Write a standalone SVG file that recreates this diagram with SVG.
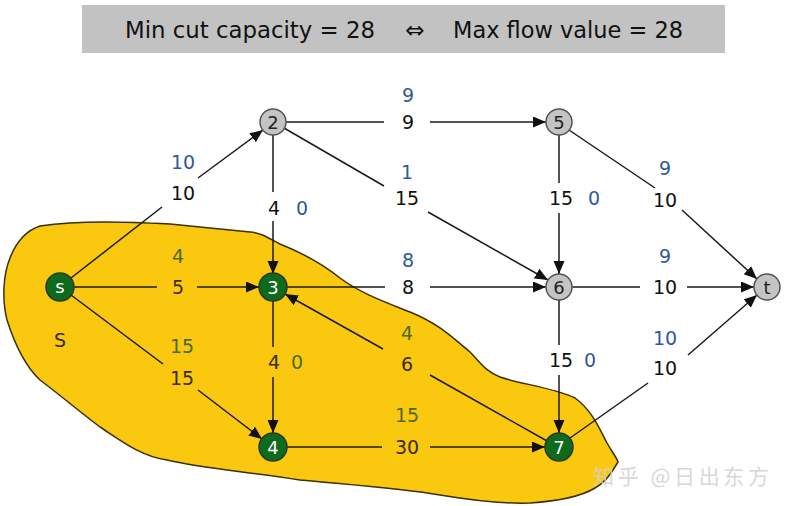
<svg xmlns="http://www.w3.org/2000/svg" width="787" height="506" viewBox="0 0 787 506">
<defs>
<marker id="arr" markerUnits="userSpaceOnUse" markerWidth="14" markerHeight="12" refX="13" refY="5.5" orient="auto">
<path d="M0,0 L13,5.5 L0,11 Z" fill="#111"/>
</marker>
<style>
.e{stroke:#1a1a1a;stroke-width:1.5;fill:none}
.a{marker-end:url(#arr)}
.t{font-family:"DejaVu Sans","Liberation Sans",sans-serif;font-size:19px;text-anchor:middle;dominant-baseline:central}
.k{fill:#111}
.b{fill:#2f5a9a}
.kb{fill:#3b2c05}
.bg{fill:#4d6b2a}
.gn circle{fill:#0e6a1c;stroke:#2a3a1a;stroke-width:1.5}
.gn text{fill:#ffffff}
.gy circle{fill:#c4c4c4;stroke:#555;stroke-width:1.5}
.gy text{fill:#222}
.n{font-family:"DejaVu Sans","Liberation Sans",sans-serif;font-size:18px;text-anchor:middle;dominant-baseline:central}
.h{font-family:"DejaVu Sans","Liberation Sans",sans-serif;font-size:23px;fill:#111;dominant-baseline:central}
</style>
</defs>
<rect x="0" y="0" width="787" height="506" fill="#ffffff"/>
<g id="header">
<rect x="82" y="5" width="643" height="48" fill="#c2c2c2"/>
<text class="h" x="125" y="30" textLength="250" lengthAdjust="spacingAndGlyphs">Min cut capacity = 28</text>
<text class="h" x="415" y="30" text-anchor="middle">⇔</text>
<text class="h" x="453" y="30" textLength="230" lengthAdjust="spacingAndGlyphs">Max flow value = 28</text>
</g>
<g id="cut">
<path d="M40,226 C80,220 130,222 170,224 L250,232 C262,233 268,238 280,244 C300,252 320,262 340,278 C360,293 385,302 410,312 C440,324 455,340 470,352 C480,362 486,372 500,377 C520,384 555,388 575,398 C592,410 600,430 607,443 C612,452 617,458 618,462 C612,472 606,482 595,488 C580,497 560,501 530,503 C500,504 470,500 440,495 C400,488 340,484 300,480 C250,472 200,468 167,460 C140,456 120,440 100,427 C80,412 60,395 40,380 C25,366 15,345 7,320 C2,300 3,275 10,258 C17,240 28,230 40,226 Z" fill="#f9c80f" stroke="#3a3000" stroke-width="1.5"/>
<text class="t kb" x="60" y="340">S</text>
</g>
<g id="connectors">
<path class="e" d="M71,278 L162,207"/><path class="e a" d="M198,178 L263,130"/>
<path class="e" d="M74,287 L157,287"/><path class="e a" d="M197,287 L259,287"/>
<path class="e" d="M71,295 L163,364"/><path class="e a" d="M198,390 L262,439"/>
<path class="e" d="M286,122 L384,122"/><path class="e a" d="M430,122 L546,122"/>
<path class="e" d="M273,135 L273,192"/><path class="e a" d="M273,221 L273,274"/>
<path class="e" d="M284,128 L384,186"/><path class="e a" d="M428,212 L548,280"/>
<path class="e" d="M559,135 L559,183"/><path class="e a" d="M559,213 L559,274"/>
<path class="e" d="M569,130 L655,188"/><path class="e a" d="M682,210 L757,279"/>
<path class="e" d="M287,287 L385,287"/><path class="e a" d="M430,287 L546,287"/>
<path class="e" d="M572,287 L640,287"/><path class="e a" d="M687,287 L754,287"/>
<path class="e" d="M547,441 L430,375"/><path class="e a" d="M383,349 L285,294"/>
<path class="e" d="M273,300 L273,347"/><path class="e a" d="M273,377 L273,433"/>
<path class="e" d="M559,300 L559,345"/><path class="e a" d="M559,375 L559,433"/>
<path class="e" d="M570,438 L648,383"/><path class="e a" d="M688,355 L757,295"/>
<path class="e" d="M287,447 L382,447"/><path class="e a" d="M430,447 L545,447"/>
</g>
<g id="labels">
<text class="t k" x="183" y="193">10</text><text class="t b" x="183" y="162">10</text>
<text class="t kb" x="178" y="287">5</text><text class="t bg" x="178" y="256">4</text>
<text class="t kb" x="182" y="378">15</text><text class="t bg" x="182" y="346">15</text>
<text class="t k" x="408" y="122">9</text><text class="t b" x="408" y="95">9</text>
<text class="t k" x="274" y="208">4</text><text class="t b" x="302" y="208">0</text>
<text class="t k" x="407" y="198">15</text><text class="t b" x="407" y="172">1</text>
<text class="t k" x="561" y="198">15</text><text class="t b" x="594" y="198">0</text>
<text class="t k" x="665" y="200">10</text><text class="t b" x="665" y="168">9</text>
<text class="t k" x="408" y="287">8</text><text class="t b" x="408" y="260">8</text>
<text class="t k" x="665" y="287">10</text><text class="t b" x="665" y="256">9</text>
<text class="t kb" x="407" y="364">6</text><text class="t bg" x="407" y="333">4</text>
<text class="t kb" x="274" y="362">4</text><text class="t bg" x="297" y="362">0</text>
<text class="t k" x="561" y="360">15</text><text class="t b" x="590" y="360">0</text>
<text class="t k" x="665" y="368">10</text><text class="t b" x="665" y="338">10</text>
<text class="t kb" x="407" y="447">30</text><text class="t bg" x="407" y="415">15</text>
</g>
<g id="node-s" class="gn"><circle cx="60" cy="287" r="14"/><text class="n" x="60" y="286">s</text></g>
<g id="node-2" class="gy"><circle cx="273" cy="122" r="13"/><text class="n" x="273" y="122">2</text></g>
<g id="node-5" class="gy"><circle cx="559" cy="122" r="13"/><text class="n" x="559" y="122">5</text></g>
<g id="node-3" class="gn"><circle cx="273" cy="287" r="14"/><text class="n" x="273" y="287">3</text></g>
<g id="node-6" class="gy"><circle cx="559" cy="287" r="13"/><text class="n" x="559" y="287">6</text></g>
<g id="node-t" class="gy"><circle cx="767" cy="287" r="13"/><text class="n" x="767" y="287">t</text></g>
<g id="node-4" class="gn"><circle cx="273" cy="447" r="14"/><text class="n" x="273" y="447">4</text></g>
<g id="node-7" class="gn"><circle cx="559" cy="447" r="14"/><text class="n" x="559" y="447">7</text></g>
<g id="watermark">
<text x="593" y="475" font-family="'Noto Sans CJK SC',sans-serif" font-size="21" fill="#d0d0d0" fill-opacity="0.85" dominant-baseline="central" textLength="176" lengthAdjust="spacing">知乎 @日出东方</text>
</g>
</svg>
